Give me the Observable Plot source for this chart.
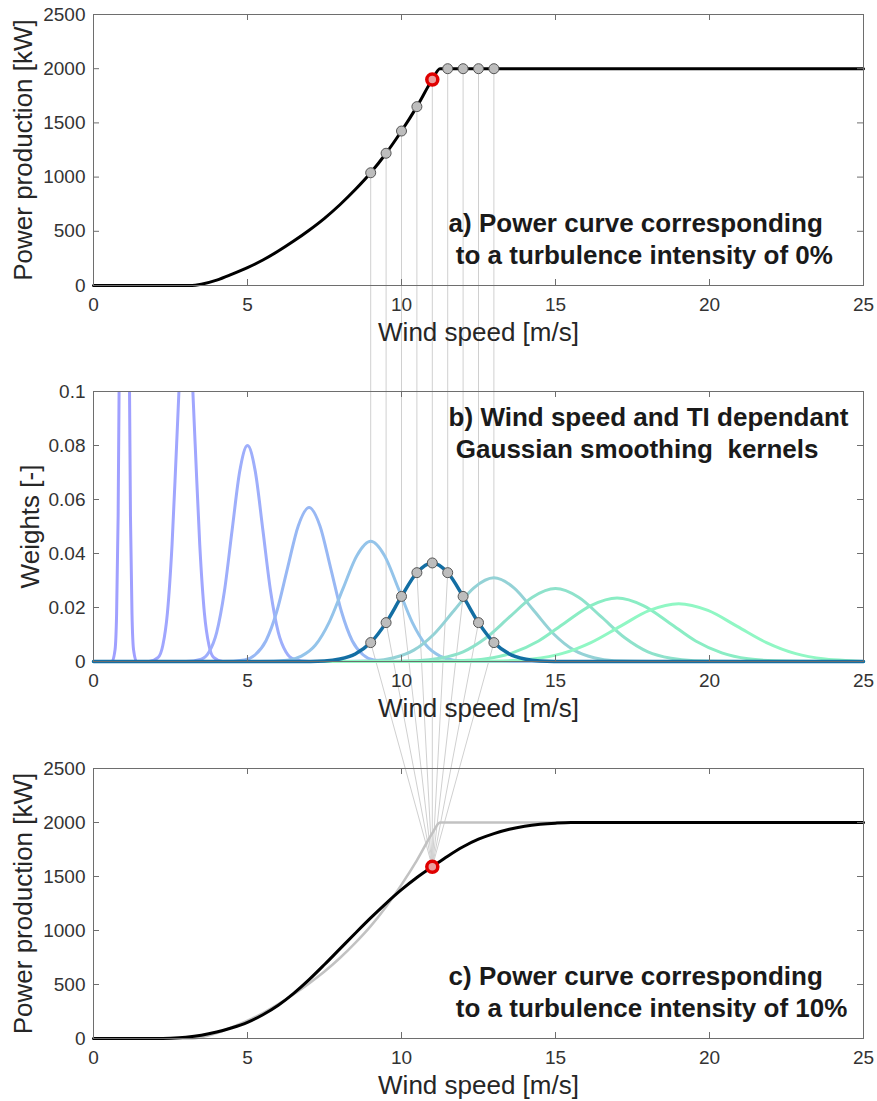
<!DOCTYPE html>
<html><head><meta charset="utf-8">
<script src="https://cdn.jsdelivr.net/npm/d3@7"></script>
<script src="https://cdn.jsdelivr.net/npm/@observablehq/plot@0.6"></script>
<style>
html,body{margin:0;padding:0;background:#fff;}
#wrap{position:relative;width:877px;height:1101px;overflow:hidden;}
#wrap svg{position:absolute;left:0;}
</style></head><body><div id="wrap"></div>
<script>
// ---------- data ----------
const windTicks = [0, 5, 10, 15, 20, 25];
const windTickLabels = ["0", "5", "10", "15", "20", "25"];
const powerTicks = [0, 500, 1000, 1500, 2000, 2500];
const powerTickLabels = ["0", "500", "1000", "1500", "2000", "2500"];
const weightTicks = [0, 0.02, 0.04, 0.06, 0.08, 0.1];
const weightTickLabels = ["0", "0.02", "0.04", "0.06", "0.08", "0.1"];

const xLabel = "Wind speed [m/s]";
const powerLabel = "Power production [kW]";
const weightLabel = "Weights [-]";
const annotA = "a) Power curve corresponding\n\u00a0to a turbulence intensity of 0%";
const annotB = "b) Wind speed and TI dependant\n\u00a0Gaussian smoothing  kernels";
const annotC = "c) Power curve corresponding\n\u00a0to a turbulence intensity of 10%";

// power curve, turbulence intensity 0%
const windTI0  = [0, 3.2, 3.5, 4, 4.5, 5, 5.5, 6, 6.5, 7, 7.5, 8, 8.5, 9, 9.5, 10, 10.5, 11, 11.25, 25];
const powerTI0 = [0, 0, 12, 50, 105, 165, 235, 318, 410, 510, 620, 745, 885, 1040, 1220, 1425, 1650, 1900, 2000, 2000];

// power curve, turbulence intensity 10%
const windTI10  = [0, 2, 2.5, 3, 3.5, 4, 4.5, 5, 5.5, 6, 6.5, 7, 7.5, 8, 8.5, 9, 9.5, 10, 10.5, 11, 11.5, 12, 12.5, 13, 13.5, 14, 14.5, 15, 15.5, 25];
const powerTI10 = [0, 0, 3, 12, 30, 60, 100, 150, 220, 308, 418, 545, 685, 830, 975, 1117, 1252, 1378, 1491, 1590, 1688, 1775, 1845, 1897, 1937, 1965, 1983, 1994, 2000, 2000];

// Gaussian kernels (centre wind speed -> sampled curve)
const kernelCenters = [1, 3, 5, 7, 9, 13, 15, 17, 19];
const kernelWind = [
  [0, 0.6, 0.7, 0.75, 0.8, 0.85, 0.9, 0.95, 1, 1.05, 1.1, 1.15, 1.2, 1.25, 1.3, 1.4, 25],
  [0, 1.8, 2.1, 2.25, 2.4, 2.55, 2.7, 2.85, 3, 3.15, 3.3, 3.45, 3.6, 3.75, 3.9, 4.2, 25],
  [0, 3, 3.5, 3.75, 4, 4.25, 4.5, 4.75, 5, 5.25, 5.5, 5.75, 6, 6.25, 6.5, 7, 25],
  [0, 4.2, 4.9, 5.25, 5.6, 5.95, 6.3, 6.65, 7, 7.35, 7.7, 8.05, 8.4, 8.75, 9.1, 9.8, 25],
  [0, 5.4, 6.3, 6.75, 7.2, 7.65, 8.1, 8.55, 9, 9.45, 9.9, 10.35, 10.8, 11.25, 11.7, 12.6, 25],
  [0, 7.8, 9.1, 9.75, 10.4, 11.05, 11.7, 12.35, 13, 13.65, 14.3, 14.95, 15.6, 16.25, 16.9, 18.2, 25],
  [0, 9, 10.5, 11.25, 12, 12.75, 13.5, 14.25, 15, 15.75, 16.5, 17.25, 18, 18.75, 19.5, 21, 25],
  [0, 10.2, 11.9, 12.75, 13.6, 14.45, 15.3, 16.15, 17, 17.85, 18.7, 19.55, 20.4, 21.25, 22.1, 23.8, 25],
  [0, 11.4, 13.3, 14.25, 15.2, 16.15, 17.1, 18.05, 19, 19.95, 20.9, 21.85, 22.8, 23.75, 24.7, 25]
];
const kernelWeight = [
  [0, 0, .0044, .0176, .0539, .1297, .2422, .3519, .399, .3519, .2422, .1297, .0539, .0176, .0044, 0, 0],
  [0, 0, .0015, .0059, .018, .0432, .0807, .1173, .133, .1173, .0807, .0432, .018, .0059, .0015, 0, 0],
  [0, 0, .0009, .0035, .0108, .026, .0486, .0706, .08, .0706, .0486, .026, .0108, .0035, .0009, 0, 0],
  [0, 0, .0006, .0025, .0077, .0185, .0346, .0503, .057, .0503, .0346, .0185, .0077, .0025, .0006, 0, 0],
  [0, 0, .0005, .002, .006, .0145, .027, .0392, .0445, .0392, .027, .0145, .006, .002, .0005, 0, 0],
  [0, 0, .0003, .0014, .0042, .0101, .0188, .0273, .031, .0273, .0188, .0101, .0042, .0014, .0003, 0, 0],
  [0, 0, .0003, .0012, .0036, .0088, .0164, .0238, .027, .0238, .0164, .0088, .0036, .0012, .0003, 0, 0],
  [0, 0, .0003, .001, .0032, .0076, .0143, .0207, .0235, .0207, .0143, .0076, .0032, .001, .0003, 0, 0],
  [0, 0, .0002, .0009, .0029, .007, .013, .0189, .0214, .0189, .013, .007, .0029, .0009, .0002, 0]
];
// highlighted kernel centred on 11 m/s
const selKernelWind   = [0, 6.6, 7.5, 8, 8.5, 9, 9.5, 10, 10.5, 11, 11.5, 12, 12.5, 13, 13.5, 14, 14.5, 15.4, 25];
const selKernelWeight = [0, 0, .0002, .0009, .0028, .007, .0144, .0241, .0329, .0365, .0329, .0241, .0144, .007, .0028, .0009, .0002, 0, 0];

// sample points used for the smoothing at 11 m/s
const markerWind    = [9, 9.5, 10, 10.5, 11, 11.5, 12, 12.5, 13];
const markerPower   = [1040, 1220, 1425, 1650, 1900, 2000, 2000, 2000, 2000];
const markerWeight  = [.007, .0144, .0241, .0329, .0365, .0329, .0241, .0144, .007];
const selWind = 11;
const selPowerTI0 = 1900;
const selPowerTI10 = 1590;

// ---------- styles ----------
const kernelColors = ["#a0a0ff", "#a0a6fe", "#9eaefb", "#98b8f4", "#94c4ea", "#94d2d6", "#8ee2cb", "#8aedc4", "#90f7c4"];
const selKernelColor = "#136ea3";
const FONT = '"Liberation Sans", Arial, Helvetica, sans-serif';
const AX = "#6e6e6e";
const W = 877, ML = 93, MR = 14, FW = W - ML - MR;
const STYLE = {background: "transparent", overflow: "visible", fontFamily: FONT};

function axesMarks(yTicks, yTickLabels, frameH, yLabel, yLabelDx) {
  return [
    Plot.tickX(windTicks, {x: d => d, insetTop: frameH - 6, stroke: AX}),
    Plot.tickX(windTicks, {x: d => d, insetBottom: frameH - 6, stroke: AX}),
    Plot.tickY(yTicks, {y: d => d, insetRight: FW - 6, stroke: AX}),
    Plot.tickY(yTicks, {y: d => d, insetLeft: FW - 6, stroke: AX}),
    Plot.frame({stroke: AX, strokeWidth: 1}),
    Plot.axisX(windTicks, {tickSize: 0, tickPadding: 12, fontSize: 19, color: "#333", label: null,
      tickFormat: d => windTickLabels[windTicks.indexOf(d)]}),
    Plot.axisY(yTicks, {tickSize: 0, tickPadding: 8, fontSize: 19, color: "#333", label: null,
      tickFormat: d => yTickLabels[yTicks.indexOf(d)]}),
    Plot.text([xLabel], {text: d => d, frameAnchor: "bottom", textAnchor: "middle", lineAnchor: "middle",
      dy: 47, fontSize: 26, fill: "#262626"}),
    Plot.text([yLabel], {text: d => d, frameAnchor: "left", textAnchor: "middle", lineAnchor: "middle",
      rotate: -90, dx: yLabelDx, fontSize: 26, fill: "#262626"})
  ];
}
function annot(txt, x, y) {
  return Plot.text([txt], {text: d => d, x: () => x, y: () => y, textAnchor: "start", lineAnchor: "middle",
    lineHeight: 1.23, fontSize: 26, fontWeight: "bold", fill: "#1a1a1a"});
}

const ti0Rows = windTI0.map((w, i) => ({w, p: powerTI0[i]}));
const ti10Rows = windTI10.map((w, i) => ({w, p: powerTI10[i]}));
const markA = markerWind.map((w, i) => ({w, p: markerPower[i]}));
const markB = markerWind.map((w, i) => ({w, k: markerWeight[i]}));
const kernelRows = kernelCenters.flatMap((c, j) => kernelWind[j].map((w, i) => ({c, w, k: kernelWeight[j][i]})));
const selRows = selKernelWind.map((w, i) => ({w, k: selKernelWeight[i]}));

const TOP_A = 0, TOP_B = 330, TOP_C = 710;

const pa = Plot.plot({
  width: W, height: 330, marginTop: 14, marginBottom: 45, marginLeft: ML, marginRight: MR,
  x: {domain: [0, 25]}, y: {domain: [0, 2500]}, style: STYLE,
  marks: [
    Plot.line(ti0Rows, {x: "w", y: "p", stroke: "#000", strokeWidth: 3, curve: "monotone-x"}),
    Plot.dot(markA, {x: "w", y: "p", r: 5, fill: "#bdbdbd", stroke: "#555", strokeWidth: 1}),
    Plot.dot([selWind], {x: d => d, y: () => selPowerTI0, r: 5.5, fill: "#eaa0a0", stroke: "#e00000", strokeWidth: 3.5}),
    ...axesMarks(powerTicks, powerTickLabels, 271, powerLabel, -70),
    annot(annotA, 11.53, 436)
  ]
});

const pb = Plot.plot({
  width: W, height: 380, marginTop: 61, marginBottom: 49, marginLeft: ML, marginRight: MR,
  x: {domain: [0, 25]}, y: {domain: [0, 0.1]}, style: STYLE,
  color: {type: "ordinal", domain: kernelCenters, range: kernelColors},
  marks: [
    Plot.line(kernelRows.filter(d => d.c <= 3), {x: "w", y: "k", z: "c", stroke: "c", strokeWidth: 3, curve: "monotone-x", clip: true}),
    Plot.line(kernelRows.filter(d => d.c > 3), {x: "w", y: "k", z: "c", stroke: "c", strokeWidth: 3, curve: "monotone-x"}),
    Plot.line(selRows, {x: "w", y: "k", stroke: selKernelColor, strokeWidth: 3.5, curve: "monotone-x"}),
    Plot.dot(markB, {x: "w", y: "k", r: 5, fill: "#bdbdbd", stroke: "#555", strokeWidth: 1}),
    ...axesMarks(weightTicks, weightTickLabels, 270, weightLabel, -63),
    annot(annotB, 11.53, 0.0851)
  ]
});

const pc = Plot.plot({
  width: W, height: 391, marginTop: 58, marginBottom: 63, marginLeft: ML, marginRight: MR,
  x: {domain: [0, 25]}, y: {domain: [0, 2500]}, style: STYLE,
  marks: [
    Plot.line(ti0Rows, {x: "w", y: "p", stroke: "#c2c2c2", strokeWidth: 2.5, curve: "monotone-x"}),
    Plot.line(ti10Rows, {x: "w", y: "p", stroke: "#000", strokeWidth: 3, curve: "monotone-x"}),
    Plot.dot([selWind], {x: d => d, y: () => selPowerTI10, r: 5.5, fill: "#eaa0a0", stroke: "#e00000", strokeWidth: 3.5}),
    ...axesMarks(powerTicks, powerTickLabels, 270, powerLabel, -70),
    annot(annotC, 11.53, 438)
  ]
});

// connector lines between the panels, positioned through each panel's scales
const xa = pa.scale("x"), ya = pa.scale("y"), xb = pb.scale("x"), yb = pb.scale("y"), xc = pc.scale("x"), yc = pc.scale("y");
const segs = [];
const cx = xc.apply(selWind), cy = yc.apply(selPowerTI10) + TOP_C;
markerWind.forEach((w, i) => {
  const x1 = xa.apply(w), y1 = ya.apply(markerPower[i]) + TOP_A;
  const x2 = xb.apply(w), y2 = yb.apply(markerWeight[i]) + TOP_B;
  segs.push({x1, y1, x2, y2});
  segs.push({x1: x2, y1: y2, x2: cx, y2: cy});
});
const overlay = Plot.plot({
  width: W, height: 1101, margin: 0, style: STYLE,
  x: {type: "identity", axis: null}, y: {type: "identity", axis: null},
  marks: [Plot.link(segs, {x1: "x1", y1: "y1", x2: "x2", y2: "y2", stroke: "#d0d0d0", strokeWidth: 1})]
});

const wrap = document.getElementById("wrap");
[[overlay, 0], [pa, TOP_A], [pb, TOP_B], [pc, TOP_C]].forEach(([svg, top]) => {
  svg.style.position = "absolute";
  svg.style.top = top + "px";
  svg.style.left = "0px";
  wrap.appendChild(svg);
});
</script></body></html>
